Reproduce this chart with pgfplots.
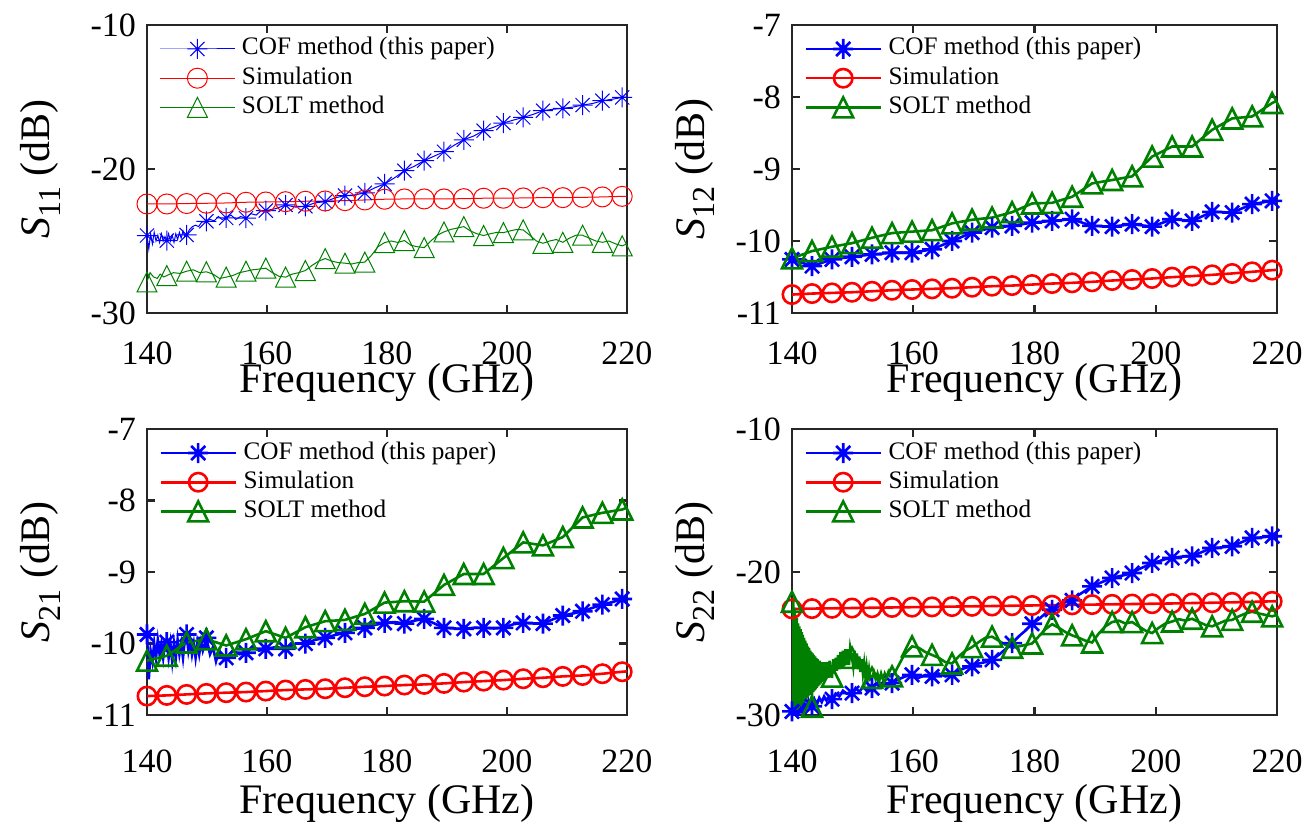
\documentclass[border=0pt]{standalone}
\usepackage{fontspec}
\setmainfont{Liberation Serif}
\usepackage{pgfplots}
\usepackage{pgfplotstable}
\pgfplotsset{compat=1.18}

\definecolor{mblue}{rgb}{0,0,1}
\definecolor{mred}{rgb}{1,0,0}
\definecolor{mgreen}{rgb}{0,0.5,0}

\pgfdeclareplotmark{mstar}{%
  \pgfpathmoveto{\pgfqpoint{-\pgfplotmarksize}{0pt}}\pgfpathlineto{\pgfqpoint{\pgfplotmarksize}{0pt}}%
  \pgfpathmoveto{\pgfqpoint{0pt}{-\pgfplotmarksize}}\pgfpathlineto{\pgfqpoint{0pt}{\pgfplotmarksize}}%
  \pgfpathmoveto{\pgfqpoint{-.7071\pgfplotmarksize}{-.7071\pgfplotmarksize}}\pgfpathlineto{\pgfqpoint{.7071\pgfplotmarksize}{.7071\pgfplotmarksize}}%
  \pgfpathmoveto{\pgfqpoint{-.7071\pgfplotmarksize}{.7071\pgfplotmarksize}}\pgfpathlineto{\pgfqpoint{.7071\pgfplotmarksize}{-.7071\pgfplotmarksize}}%
  \pgfusepathqstroke}
\pgfdeclareplotmark{mtri}{%
  \pgfpathmoveto{\pgfqpoint{0pt}{\pgfplotmarksize}}%
  \pgfpathlineto{\pgfqpoint{-\pgfplotmarksize}{-\pgfplotmarksize}}%
  \pgfpathlineto{\pgfqpoint{\pgfplotmarksize}{-\pgfplotmarksize}}%
  \pgfpathclose\pgfusepathqstroke}

\pgfplotsset{
  sparam/.style={
    scale only axis, xmin=140, xmax=220,
    xtick={140,160,180,200,220}, xticklabels={140,160,180,200,220},
    tick align=inside, major tick length=4bp,
    axis line style={black!85, line width=1.1bp},
    tick style={black!85, line width=1.1bp},
    tick label style={font=\fontsize{17bp}{20bp}\selectfont},
    xticklabel style={inner sep=0pt, yshift=-14bp},
    yticklabel style={xshift=-2bp},
    xlabel={Frequency (GHz)},
    every axis x label/.style={at={(axis description cs:0.5,0)}, anchor=center, yshift=-36bp,
      inner sep=0pt, text height=12bp, text depth=4.5bp, font=\fontsize{21bp}{25bp}\selectfont},
    every axis y label/.style={at={(axis description cs:-0.222,0.5)}, anchor=center, rotate=90, font=\fontsize{21bp}{25bp}\selectfont},
    legend style={at={(axis description cs:0,1)}, anchor=north west, xshift=6bp, yshift=-4.5bp,
      draw=none, fill=none, inner sep=0pt, font=\fontsize{12.6bp}{15bp}\selectfont,
      row sep=0bp, column sep=2bp, nodes={inner sep=1.3bp, text height=9bp, text depth=3bp}},
    legend cell align=left,
    legend image code/.code={\draw[mark repeat=2,mark phase=2,##1] plot coordinates {(0bp,0bp) (18.75bp,0bp) (37.5bp,0bp)};},
  },
  bottomrow/.style={xticklabel style={yshift=-3bp}, every axis x label/.append style={yshift=-9.3bp}},
  rightcol/.style={every axis y label/.append style={at={(axis description cs:-0.2,0.5)}}},
  thinln/.style={line width=0.5bp, mark options={solid, line width=0.5bp}},
  thickln/.style={line width=1.3bp, mark options={solid, line width=1.3bp}},
}

\newcommand{\plotseries}[3]{%
  \addplot[#1, forget plot] table[x=f, y=v] {#3};
  \addplot[#1, #2, only marks, forget plot] table[x=f, y expr={\thisrow{m}>0 ? \thisrow{v} : nan}] {#3};
}
\newcommand{\slabel}[1]{\textit{S}\raisebox{-0.55ex}{\fontsize{16bp}{16bp}\selectfont #1}\ (dB)}

% ---------------- Panel 1: S11 ----------------
\pgfplotstableread{
f v m
140.0 -24.62 1
140.3 -25.55 0
140.6 -24.5 0
140.9 -25.2 0
141.2 -24.4 0
141.5 -25.0 0
141.8 -24.6 0
142.1 -25.1 0
142.4 -24.5 0
142.7 -25.0 0
143.0 -24.7 0
143.3 -24.97 1
143.6 -24.5 0
143.9 -25.0 0
144.2 -24.6 0
144.5 -25.1 0
144.8 -24.5 0
145.1 -24.9 0
145.4 -24.4 0
145.7 -24.8 0
146.0 -24.3 0
146.3 -24.7 0
146.6 -24.58 1
147.1 -24.2 0
147.6 -24.0 0
148.1 -23.9 0
148.6 -24.0 0
149.1 -23.7 0
149.9 -23.63 1
150.5 -23.5 0
151.2 -23.6 0
151.9 -23.3 0
152.5 -23.5 0
153.2 -23.40 1
154.0 -23.2 0
154.8 -23.5 0
155.6 -23.3 0
156.5 -23.42 1
157.3 -23.1 0
158.2 -23.2 0
159.0 -22.9 0
159.8 -22.89 1
161.5 -22.75 0
163.1 -22.50 1
164.8 -22.65 0
166.4 -22.59 1
168.0 -22.35 0
169.7 -22.27 1
171.4 -22.00 0
173.0 -21.85 1
174.6 -21.80 0
176.3 -21.66 1
178.0 -21.30 0
179.6 -21.04 1
181.3 -20.60 0
182.9 -20.12 1
184.6 -19.80 0
186.2 -19.42 1
187.9 -19.10 0
189.5 -18.80 1
191.2 -18.35 0
192.8 -17.97 1
194.5 -17.70 0
196.1 -17.34 1
197.8 -17.10 0
199.4 -16.81 1
201.1 -16.60 0
202.7 -16.42 1
204.4 -16.20 0
206.0 -15.95 1
207.7 -15.85 0
209.3 -15.79 1
211.0 -15.70 0
212.6 -15.56 1
214.3 -15.45 0
215.9 -15.26 1
217.6 -15.15 0
219.2 -15.03 1
220.0 -15.00 0
}\PaCOF
\pgfplotstableread{
f v m
140.0 -22.43 1
143.3 -22.43 1
146.6 -22.40 1
149.9 -22.38 1
153.2 -22.36 1
156.5 -22.31 1
159.8 -22.29 1
163.1 -22.27 1
166.4 -22.24 1
169.7 -22.22 1
173.0 -22.20 1
176.3 -22.15 1
179.6 -22.10 1
182.9 -22.08 1
186.2 -22.08 1
189.5 -22.08 1
192.8 -22.06 1
196.1 -22.03 1
199.4 -22.03 1
202.7 -22.01 1
206.0 -21.99 1
209.3 -21.99 1
212.6 -21.97 1
215.9 -21.94 1
219.2 -21.90 1
220.0 -21.90 0
}\PaSIM
\pgfplotstableread{
f v m
140.0 -27.84 1
140.5 -27.20 0
141.1 -27.50 0
141.7 -27.60 0
142.2 -27.30 0
142.8 -27.50 0
143.3 -27.40 1
144.4 -27.20 0
145.5 -27.25 0
146.6 -27.10 1
147.7 -27.00 0
148.8 -27.20 0
149.9 -27.14 1
151.0 -27.30 0
152.1 -27.60 0
153.2 -27.51 1
154.3 -27.40 0
155.4 -27.20 0
156.5 -27.10 1
157.6 -27.00 0
158.7 -26.95 0
159.8 -26.89 1
160.9 -27.20 0
162.0 -27.45 0
163.1 -27.51 1
164.2 -27.30 0
165.3 -27.20 0
166.4 -27.05 1
167.5 -26.70 0
168.6 -26.40 0
169.7 -26.22 1
170.8 -26.40 0
171.9 -26.50 0
173.0 -26.54 1
174.1 -26.60 0
175.2 -26.50 0
176.3 -26.47 1
177.4 -26.00 0
178.5 -25.40 0
179.6 -25.11 1
180.7 -25.00 0
181.8 -25.10 0
182.9 -24.97 1
184.0 -25.30 0
185.1 -25.40 0
186.2 -25.46 1
187.3 -25.00 0
188.4 -24.60 0
189.5 -24.37 1
190.6 -24.20 0
191.7 -24.10 0
192.8 -24.00 1
193.9 -24.30 0
195.0 -24.50 0
196.1 -24.62 1
197.2 -24.50 0
198.3 -24.40 0
199.4 -24.42 1
200.5 -24.30 0
201.6 -24.20 0
202.7 -24.23 1
203.8 -24.60 0
204.9 -25.00 0
206.0 -25.16 1
207.1 -25.00 0
208.2 -24.90 0
209.3 -25.09 1
210.4 -24.80 0
211.5 -24.60 0
212.6 -24.60 1
213.7 -24.80 0
214.8 -25.00 0
215.9 -25.09 1
217.0 -25.00 0
218.1 -25.20 0
219.2 -25.34 1
220.0 -25.20 0
}\PaSOLT

% ---------------- Panel 2: S12 ----------------
\pgfplotstableread{
f v m
140.0 -10.256 1
143.3 -10.349 1
146.6 -10.256 1
149.9 -10.219 1
153.2 -10.186 1
156.5 -10.163 1
159.8 -10.163 1
163.1 -10.116 1
166.4 -10.000 1
169.7 -9.884 1
173.0 -9.814 1
176.3 -9.791 1
179.6 -9.744 1
182.9 -9.721 1
186.2 -9.698 1
189.5 -9.791 1
192.8 -9.800 1
196.1 -9.767 1
199.4 -9.800 1
202.7 -9.698 1
206.0 -9.721 1
209.3 -9.595 1
212.6 -9.605 1
215.9 -9.488 1
219.2 -9.442 1
220.0 -9.430 0
}\PbCOF
\pgfplotstableread{
f v m
140.0 -10.744 1
143.3 -10.730 1
146.6 -10.721 1
149.9 -10.712 1
153.2 -10.698 1
156.5 -10.684 1
159.8 -10.674 1
163.1 -10.665 1
166.4 -10.656 1
169.7 -10.642 1
173.0 -10.628 1
176.3 -10.619 1
179.6 -10.605 1
182.9 -10.591 1
186.2 -10.581 1
189.5 -10.567 1
192.8 -10.549 1
196.1 -10.535 1
199.4 -10.521 1
202.7 -10.502 1
206.0 -10.488 1
209.3 -10.470 1
212.6 -10.451 1
215.9 -10.428 1
219.2 -10.405 1
220.0 -10.400 0
}\PbSIM
\pgfplotstableread{
f v m
140.0 -10.240 1
143.3 -10.140 1
146.6 -10.080 1
149.9 -10.030 1
153.2 -9.955 1
156.5 -9.890 1
159.8 -9.870 1
163.1 -9.850 1
166.4 -9.755 1
169.7 -9.705 1
173.0 -9.675 1
176.3 -9.600 1
179.6 -9.479 1
182.9 -9.470 1
186.2 -9.386 1
189.5 -9.200 1
192.8 -9.153 1
196.1 -9.102 1
199.4 -8.828 1
202.7 -8.688 1
206.0 -8.688 1
209.3 -8.456 1
212.6 -8.298 1
215.9 -8.270 1
219.2 -8.084 1
220.0 -8.050 0
}\PbSOLT

% ---------------- Panel 3: S21 ----------------
\pgfplotstableread{
f v m
140.0 -9.874 1
140.3 -10.50 0
140.6 -10.10 0
140.9 -10.25 0
141.2 -10.00 0
141.5 -10.20 0
141.8 -9.95 0
142.1 -10.15 0
142.4 -10.00 0
142.7 -10.20 0
143.0 -10.00 0
143.3 -9.981 1
143.6 -10.20 0
143.9 -10.00 0
144.2 -10.25 0
144.5 -10.00 0
144.8 -10.20 0
145.1 -9.95 0
145.4 -10.15 0
145.7 -10.00 0
146.0 -10.20 0
146.3 -9.95 0
146.6 -9.874 1
146.9 -10.10 0
147.2 -9.95 0
147.5 -10.15 0
147.8 -10.00 0
148.1 -10.20 0
148.4 -10.00 0
148.7 -10.15 0
149.0 -9.98 0
149.3 -10.10 0
149.9 -9.921 1
150.5 -10.15 0
151.0 -10.05 0
151.5 -10.25 0
152.0 -10.10 0
152.6 -10.20 0
153.2 -10.200 1
154.3 -10.10 0
155.4 -10.15 0
156.5 -10.130 1
157.6 -10.05 0
158.7 -10.10 0
159.8 -10.074 1
161.5 -10.05 0
163.1 -10.074 1
164.8 -10.00 0
166.4 -10.000 1
168.0 -9.95 0
169.7 -9.921 1
171.4 -9.88 0
173.0 -9.851 1
174.6 -9.80 0
176.3 -9.781 1
178.0 -9.74 0
179.6 -9.712 1
181.3 -9.70 0
182.9 -9.721 1
184.6 -9.68 0
186.2 -9.656 1
187.9 -9.72 0
189.5 -9.781 1
191.2 -9.79 0
192.8 -9.795 1
194.5 -9.78 0
196.1 -9.781 1
197.8 -9.79 0
199.4 -9.781 1
201.1 -9.73 0
202.7 -9.712 1
204.4 -9.72 0
206.0 -9.721 1
207.7 -9.66 0
209.3 -9.609 1
211.0 -9.58 0
212.6 -9.549 1
214.3 -9.50 0
215.9 -9.456 1
217.6 -9.42 0
219.2 -9.377 1
220.0 -9.36 0
}\PcCOF
\pgfplotstableread{
f v m
140.0 -10.735 1
143.3 -10.726 1
146.6 -10.712 1
149.9 -10.698 1
153.2 -10.688 1
156.5 -10.679 1
159.8 -10.665 1
163.1 -10.651 1
166.4 -10.642 1
169.7 -10.633 1
173.0 -10.619 1
176.3 -10.605 1
179.6 -10.595 1
182.9 -10.581 1
186.2 -10.572 1
189.5 -10.558 1
192.8 -10.540 1
196.1 -10.526 1
199.4 -10.512 1
202.7 -10.493 1
206.0 -10.479 1
209.3 -10.460 1
212.6 -10.447 1
215.9 -10.423 1
219.2 -10.395 1
220.0 -10.390 0
}\PcSIM
\pgfplotstableread{
f v m
140.0 -10.240 1
143.3 -10.172 1
146.6 -9.986 1
149.9 -9.940 1
153.2 -10.028 1
156.5 -9.940 1
159.8 -9.828 1
163.1 -9.921 1
166.4 -9.772 1
169.7 -9.688 1
173.0 -9.670 1
176.3 -9.586 1
179.6 -9.428 1
182.9 -9.409 1
186.2 -9.414 1
189.5 -9.181 1
192.8 -9.028 1
196.1 -9.028 1
199.4 -8.805 1
202.7 -8.586 1
206.0 -8.628 1
209.3 -8.512 1
212.6 -8.237 1
215.9 -8.172 1
219.2 -8.126 1
220.0 -8.100 0
}\PcSOLT

% ---------------- Panel 4: S22 ----------------
\pgfplotstableread{
f v m
140.0 -29.75 1
140.2 -30.50 0
140.4 -28.80 0
140.6 -30.20 0
140.8 -29.00 0
141.0 -30.30 0
141.2 -28.90 0
141.4 -29.90 0
141.6 -29.00 0
141.8 -29.80 0
142.0 -29.10 0
142.3 -29.60 0
142.7 -29.00 0
143.0 -29.50 0
143.3 -29.40 1
143.7 -28.90 0
144.1 -29.30 0
144.5 -28.80 0
144.9 -29.10 0
145.3 -28.70 0
145.7 -29.00 0
146.1 -28.70 0
146.6 -28.89 1
147.2 -28.50 0
147.8 -28.70 0
148.4 -28.30 0
149.0 -28.50 0
149.9 -28.47 1
150.5 -28.10 0
151.1 -28.40 0
151.7 -28.00 0
152.3 -28.30 0
153.2 -28.12 1
153.8 -27.80 0
154.4 -28.00 0
155.0 -27.70 0
155.6 -27.90 0
156.5 -27.77 1
157.6 -27.50 0
158.7 -27.30 0
159.8 -27.19 1
160.9 -27.40 0
162.0 -27.20 0
163.1 -27.30 1
164.2 -27.10 0
165.3 -27.30 0
166.4 -27.19 1
167.5 -26.90 0
168.6 -26.70 0
169.7 -26.60 1
170.8 -26.40 0
171.9 -26.30 0
173.0 -26.14 1
174.1 -25.80 0
175.2 -25.40 0
176.3 -24.97 1
177.4 -24.50 0
178.5 -24.10 0
179.6 -23.62 1
180.7 -23.30 0
181.8 -22.90 0
182.9 -22.64 1
184.0 -22.40 0
185.1 -22.10 0
186.2 -21.98 1
187.3 -21.60 0
188.4 -21.30 0
189.5 -21.00 1
190.6 -20.80 0
191.7 -20.60 0
192.8 -20.42 1
193.9 -20.30 0
195.0 -20.20 0
196.1 -20.07 1
197.2 -19.80 0
198.3 -19.60 0
199.4 -19.37 1
200.5 -19.25 0
201.6 -19.10 0
202.7 -19.02 1
203.8 -18.95 0
204.9 -18.90 0
206.0 -18.90 1
207.1 -18.70 0
208.2 -18.50 0
209.3 -18.32 1
210.4 -18.30 0
211.5 -18.25 0
212.6 -18.20 1
213.7 -18.00 0
214.8 -17.80 0
215.9 -17.62 1
217.0 -17.60 0
218.1 -17.55 0
219.2 -17.50 1
220.0 -17.45 0
}\PdCOF
\pgfplotstableread{
f v m
140.0 -22.58 1
143.3 -22.56 1
146.6 -22.54 1
149.9 -22.52 1
153.2 -22.50 1
156.5 -22.48 1
159.8 -22.46 1
163.1 -22.44 1
166.4 -22.42 1
169.7 -22.40 1
173.0 -22.38 1
176.3 -22.36 1
179.6 -22.34 1
182.9 -22.32 1
186.2 -22.30 1
189.5 -22.28 1
192.8 -22.26 1
196.1 -22.24 1
199.4 -22.22 1
202.7 -22.20 1
206.0 -22.17 1
209.3 -22.15 1
212.6 -22.12 1
215.9 -22.09 1
219.2 -22.05 1
220.0 -22.04 0
}\PdSIM
\pgfplotstableread{
f v m
140.0 -22.08 1
140.1 -29.80 0
140.2 -21.80 0
140.3 -29.90 0
140.4 -22.50 0
140.5 -29.70 0
140.6 -23.00 0
140.7 -29.80 0
140.8 -23.20 0
140.9 -29.60 0
141.0 -23.60 0
141.1 -29.50 0
141.2 -23.80 0
141.3 -29.30 0
141.4 -24.00 0
141.5 -29.40 0
141.6 -24.20 0
141.7 -29.20 0
141.8 -24.40 0
141.9 -29.00 0
142.0 -24.60 0
142.1 -29.10 0
142.2 -24.80 0
142.3 -28.90 0
142.4 -25.00 0
142.5 -28.80 0
142.6 -25.20 0
142.7 -28.70 0
142.8 -25.30 0
142.9 -28.60 0
143.0 -25.50 0
143.1 -28.60 0
143.2 -25.60 0
143.3 -29.42 1
143.4 -25.70 0
143.5 -28.40 0
143.6 -25.80 0
143.7 -28.30 0
143.8 -25.90 0
143.9 -28.20 0
144.0 -26.00 0
144.1 -28.10 0
144.2 -26.10 0
144.3 -28.00 0
144.4 -26.20 0
144.5 -27.90 0
144.6 -26.20 0
144.7 -27.80 0
144.8 -26.30 0
144.9 -27.70 0
145.0 -26.30 0
145.2 -27.60 0
145.4 -26.30 0
145.6 -27.50 0
145.8 -26.30 0
146.0 -27.40 0
146.2 -26.20 0
146.4 -27.30 0
146.6 -27.32 1
146.8 -26.10 0
147.0 -27.10 0
147.2 -26.00 0
147.4 -26.90 0
147.6 -25.80 0
147.8 -26.80 0
148.0 -25.60 0
148.2 -26.70 0
148.4 -25.50 0
148.6 -26.60 0
148.8 -25.40 0
149.0 -26.50 0
149.2 -25.40 0
149.4 -26.50 0
149.6 -25.30 0
149.9 -26.00 1
150.1 -26.60 0
150.3 -25.50 0
150.5 -26.70 0
150.7 -25.70 0
150.9 -26.80 0
151.1 -25.90 0
151.3 -27.00 0
151.5 -26.10 0
151.7 -27.10 0
151.9 -26.40 0
152.1 -27.30 0
152.3 -26.60 0
152.5 -27.40 0
152.7 -26.80 0
152.9 -27.50 0
153.2 -27.40 1
153.5 -27.00 0
153.8 -27.50 0
154.1 -27.10 0
154.4 -27.60 0
154.7 -27.10 0
155.0 -27.50 0
155.3 -27.10 0
155.6 -27.40 0
155.9 -27.00 0
156.2 -27.30 0
156.5 -27.30 1
157.0 -27.00 0
157.5 -26.60 0
158.0 -26.20 0
158.5 -25.80 0
159.1 -25.50 0
159.8 -25.20 1
160.9 -25.30 0
162.0 -25.60 0
163.1 -25.80 1
164.2 -26.00 0
165.3 -26.30 0
166.4 -26.40 1
167.5 -25.90 0
168.6 -25.50 0
169.7 -25.25 1
170.8 -24.90 0
171.9 -24.60 0
173.0 -24.52 1
174.1 -24.80 0
175.2 -25.10 0
176.3 -25.30 1
177.4 -25.20 0
178.5 -25.10 0
179.6 -25.00 1
180.7 -24.50 0
181.8 -24.00 0
182.9 -23.65 1
184.0 -23.90 0
185.1 -24.20 0
186.2 -24.43 1
187.3 -24.60 0
188.4 -24.80 0
189.5 -24.93 1
190.6 -24.30 0
191.7 -23.80 0
192.8 -23.50 1
193.9 -23.40 0
195.0 -23.60 0
196.1 -23.50 1
197.2 -23.80 0
198.3 -24.10 0
199.4 -24.27 1
200.5 -23.90 0
201.6 -23.60 0
202.7 -23.46 1
203.8 -23.30 0
204.9 -23.40 0
206.0 -23.27 1
207.1 -23.50 0
208.2 -23.70 0
209.3 -23.80 1
210.4 -23.60 0
211.5 -23.40 0
212.6 -23.35 1
213.7 -23.10 0
214.8 -22.90 0
215.9 -22.78 1
217.0 -22.90 0
218.1 -23.00 0
219.2 -23.10 1
220.0 -23.00 0
}\PdSOLT

\begin{document}
\begin{tikzpicture}
\path[use as bounding box] (0bp,0bp) rectangle (653.5bp,415bp);

% Panel 1
\begin{axis}[sparam, at={(73.5bp,258.5bp)}, anchor=south west, width=240bp, height=144bp,
  ymin=-30, ymax=-10, ytick={-30,-20,-10}, yticklabels={-30,-20,-10},
  ylabel={\slabel{11}}]
\plotseries{mblue, thinln}{mark=mstar, mark size=5bp}{\PaCOF}
\plotseries{mred, thinln}{mark=o, mark size=5bp}{\PaSIM}
\plotseries{mgreen, thinln}{mark=mtri, mark size=5bp}{\PaSOLT}
\addlegendimage{mblue, thinln, mark=mstar, mark size=5bp}
\addlegendentry{COF method (this paper)}
\addlegendimage{mred, thinln, mark=o, mark size=5bp}
\addlegendentry{Simulation}
\addlegendimage{mgreen, thinln, mark=mtri, mark size=5bp}
\addlegendentry{SOLT method}
\end{axis}

% Panel 2
\begin{axis}[sparam, rightcol, at={(396bp,258.5bp)}, anchor=south west, width=242.5bp, height=144bp,
  ymin=-11, ymax=-7, ytick={-11,-10,-9,-8,-7}, yticklabels={-11,-10,-9,-8,-7},
  ylabel={\slabel{12}}]
\plotseries{mblue, thickln}{mark=mstar, mark size=5bp}{\PbCOF}
\plotseries{mred, thickln}{mark=o, mark size=4.6bp}{\PbSIM}
\plotseries{mgreen, thickln}{mark=mtri, mark size=5bp}{\PbSOLT}
\addlegendimage{mblue, thickln, mark=mstar, mark size=5bp}
\addlegendentry{COF method (this paper)}
\addlegendimage{mred, thickln, mark=o, mark size=4.6bp}
\addlegendentry{Simulation}
\addlegendimage{mgreen, thickln, mark=mtri, mark size=5bp}
\addlegendentry{SOLT method}
\end{axis}

% Panel 3
\begin{axis}[sparam, bottomrow, at={(73.5bp,57.5bp)}, anchor=south west, width=240bp, height=143bp,
  ymin=-11, ymax=-7, ytick={-11,-10,-9,-8,-7}, yticklabels={-11,-10,-9,-8,-7},
  ylabel={\slabel{21}}]
\plotseries{mblue, thickln}{mark=mstar, mark size=5bp}{\PcCOF}
\plotseries{mred, thickln}{mark=o, mark size=4.6bp}{\PcSIM}
\plotseries{mgreen, thickln}{mark=mtri, mark size=5bp}{\PcSOLT}
\addlegendimage{mblue, thickln, mark=mstar, mark size=5bp}
\addlegendentry{COF method (this paper)}
\addlegendimage{mred, thickln, mark=o, mark size=4.6bp}
\addlegendentry{Simulation}
\addlegendimage{mgreen, thickln, mark=mtri, mark size=5bp}
\addlegendentry{SOLT method}
\end{axis}

% Panel 4
\begin{axis}[sparam, bottomrow, rightcol, at={(396bp,57.5bp)}, anchor=south west, width=242.5bp, height=143bp,
  ymin=-30, ymax=-10, ytick={-30,-20,-10}, yticklabels={-30,-20,-10},
  ylabel={\slabel{22}}]
\plotseries{mblue, thickln}{mark=mstar, mark size=5bp}{\PdCOF}
\plotseries{mred, thickln}{mark=o, mark size=4.6bp}{\PdSIM}
\plotseries{mgreen, thickln}{mark=mtri, mark size=5bp}{\PdSOLT}
\addlegendimage{mblue, thickln, mark=mstar, mark size=5bp}
\addlegendentry{COF method (this paper)}
\addlegendimage{mred, thickln, mark=o, mark size=4.6bp}
\addlegendentry{Simulation}
\addlegendimage{mgreen, thickln, mark=mtri, mark size=5bp}
\addlegendentry{SOLT method}
\end{axis}
\end{tikzpicture}
\end{document}
